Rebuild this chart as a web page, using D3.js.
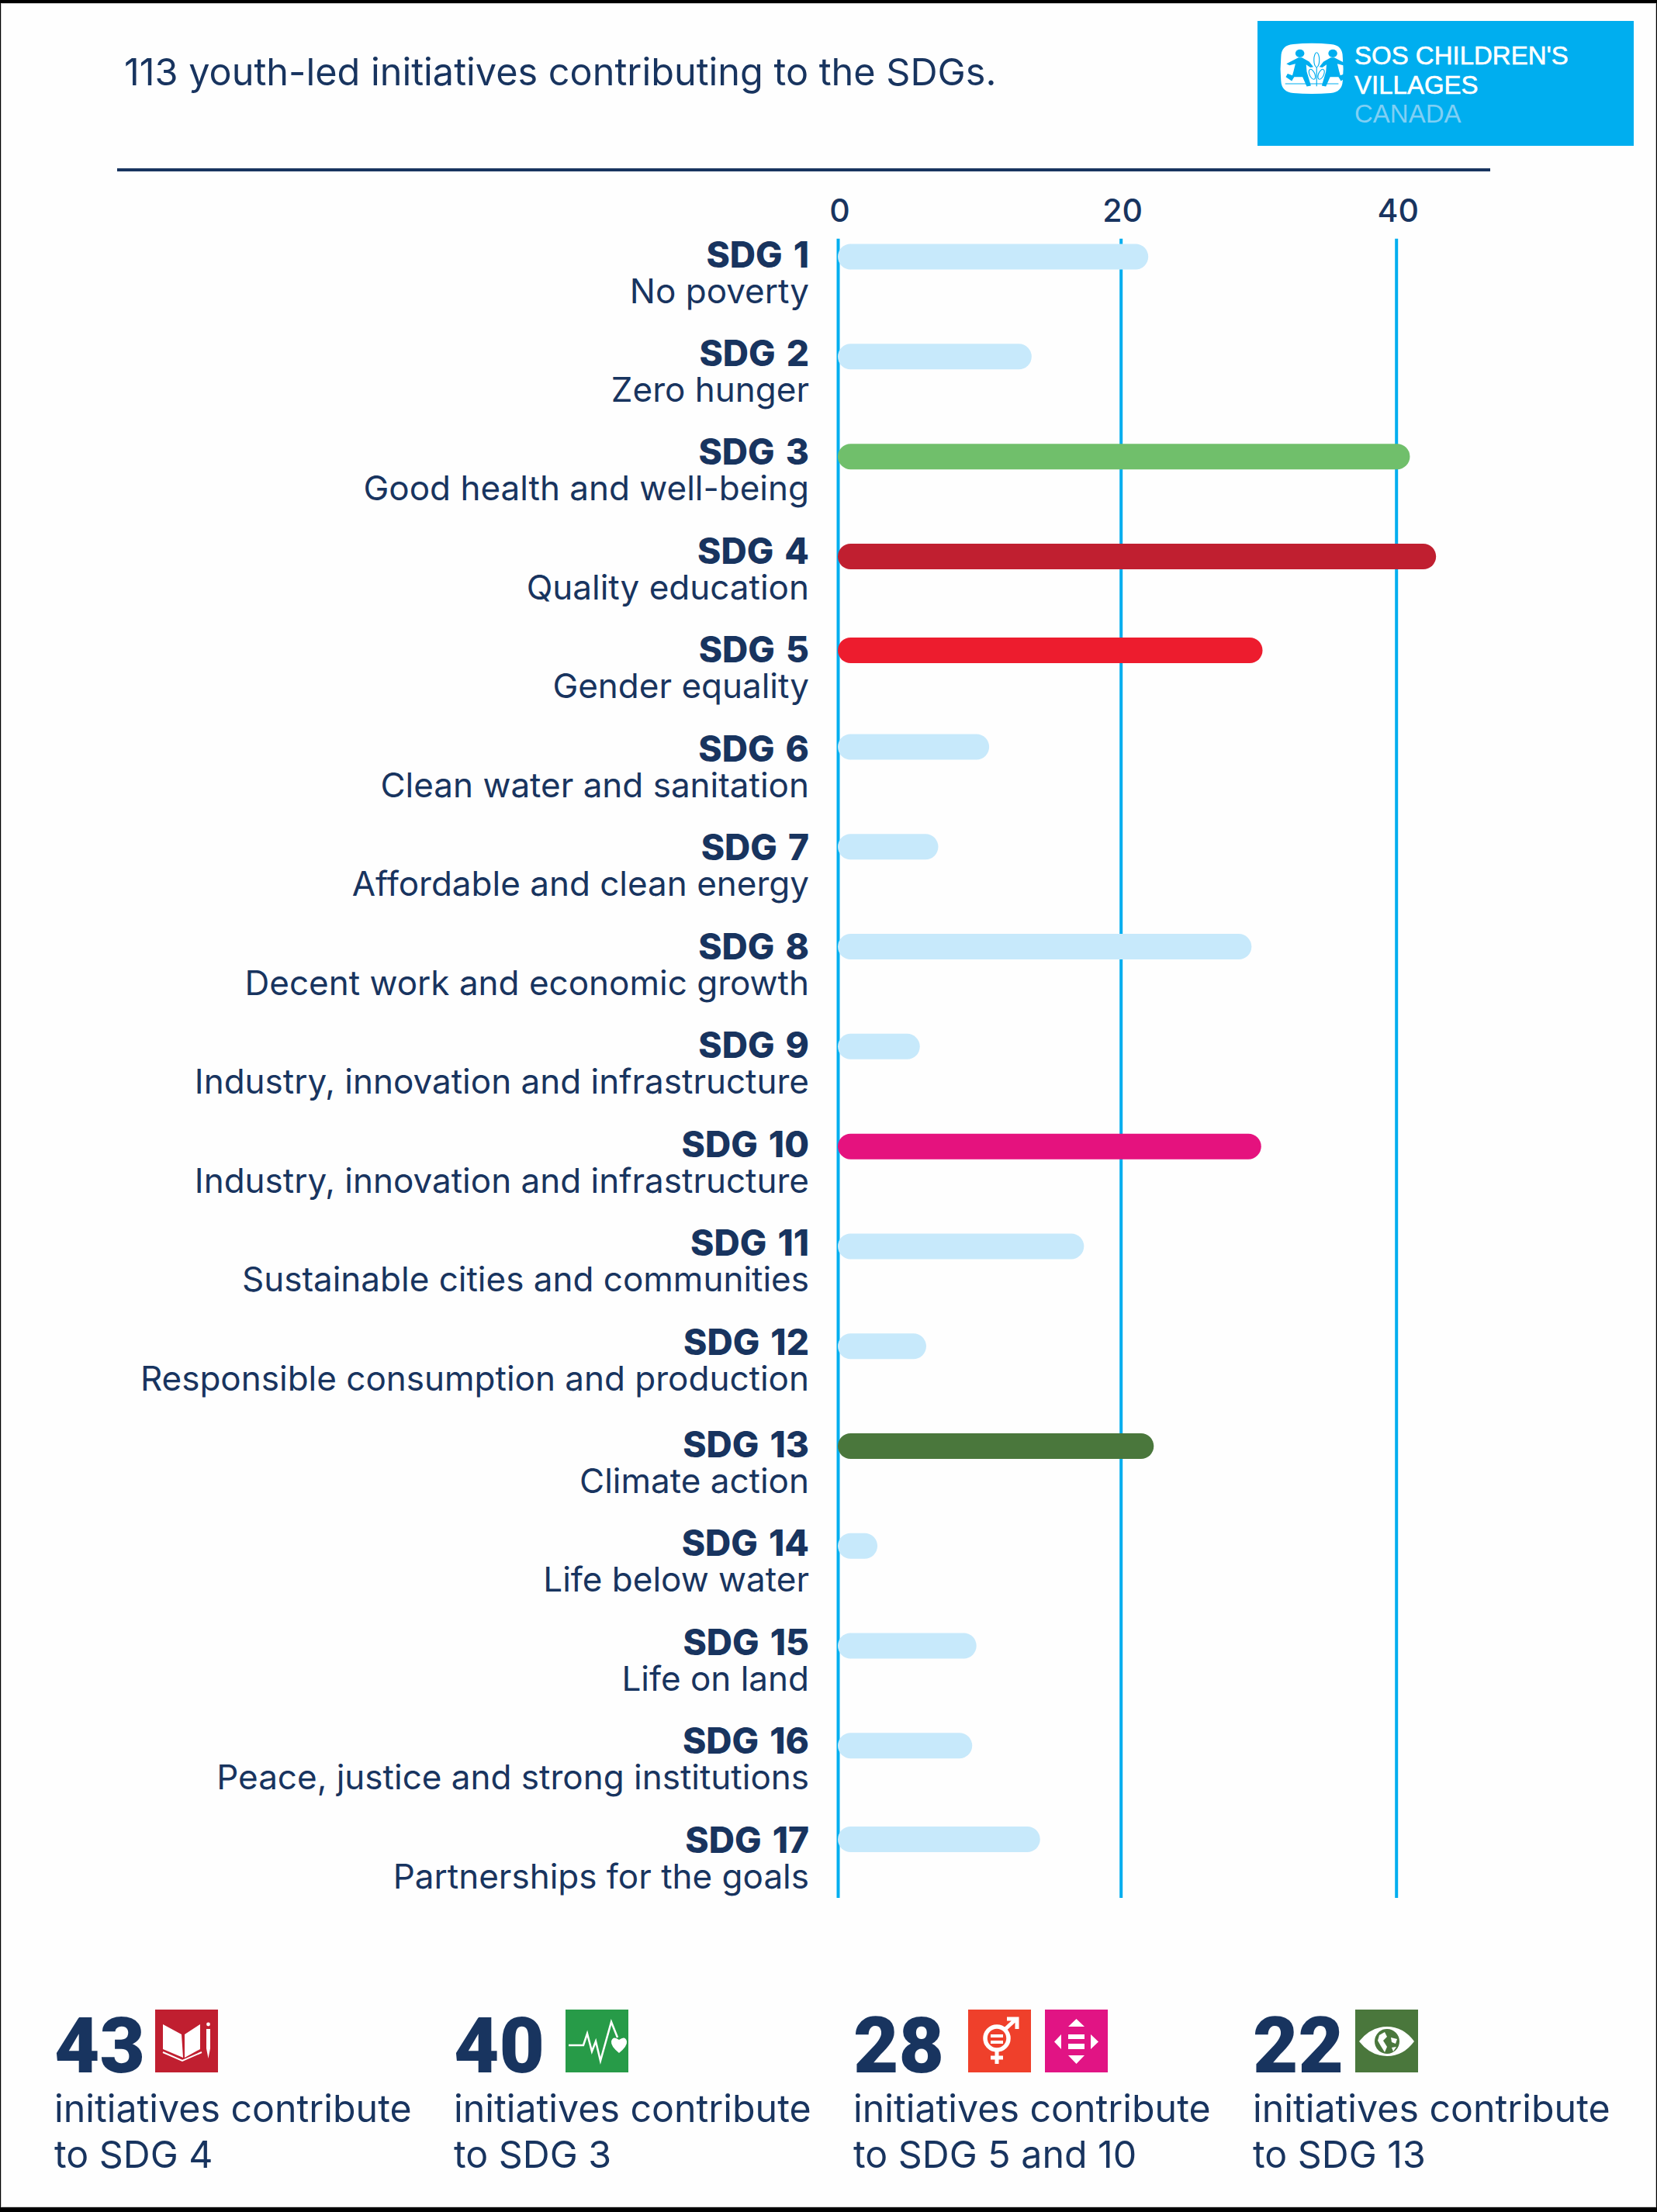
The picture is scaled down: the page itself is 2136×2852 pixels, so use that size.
<!DOCTYPE html>
<html>
<head>
<meta charset="utf-8">
<script src="https://cdn.jsdelivr.net/npm/d3@7"></script>
<style>
  html, body { margin: 0; padding: 0; background: #000; }
  svg { display: block; }
  text { font-family: Inter, "Noto Sans", sans-serif; fill: #18345f; }
</style>
</head>
<body>
<svg id="chart" width="2136" height="2852"></svg>
<script>
// data
const sdgNames = ["SDG 1","SDG 2","SDG 3","SDG 4","SDG 5","SDG 6","SDG 7","SDG 8","SDG 9","SDG 10","SDG 11","SDG 12","SDG 13","SDG 14","SDG 15","SDG 16","SDG 17"];
const sdgGoals = ["No poverty","Zero hunger","Good health and well-being","Quality education","Gender equality","Clean water and sanitation","Affordable and clean energy","Decent work and economic growth","Industry, innovation and infrastructure","Industry, innovation and infrastructure","Sustainable cities and communities","Responsible consumption and production","Climate action","Life below water","Life on land","Peace, justice and strong institutions","Partnerships for the goals"];
const sdgValues = [22, 13.7, 41, 42.9, 30.3, 10.7, 7.1, 29.5, 5.8, 30.2, 17.4, 6.25, 22.4, 2.8, 9.8, 9.5, 14.3];
const barColors = ["#c7e9fb","#c7e9fb","#70bf6b","#c01f30","#ed1c2e","#c7e9fb","#c7e9fb","#c7e9fb","#c7e9fb","#e5127e","#c7e9fb","#c7e9fb","#4a773c","#c7e9fb","#c7e9fb","#c7e9fb","#c7e9fb"];
const axisTicks = [0, 20, 40];
const statNumbers = ["43", "40", "28", "22"];
const statLines = [["initiatives contribute","to SDG 4"],["initiatives contribute","to SDG 3"],["initiatives contribute","to SDG 5 and 10"],["initiatives contribute","to SDG 13"]];
const statIcons = [["book"],["health"],["gender","inequal"],["climate"]];
const titleText = "113 youth-led initiatives contributing to the SDGs.";
const logoLines = ["SOS CHILDREN'S", "VILLAGES", "CANADA"];

const navy = "#18345f", blue = "#00aeef";
const svg = d3.select("#chart");

// page background, black frame shows round the edge
svg.append("rect").attr("width", 2136).attr("height", 2852).attr("fill", "#000");
svg.append("rect").attr("x", 1).attr("y", 4).attr("width", 2134).attr("height", 2842).attr("fill", "#c9c9c9");
svg.append("rect").attr("x", 2).attr("y", 5).attr("width", 2132).attr("height", 2840).attr("fill", "#fefefe");

// scales. the original grid is not quite even, so both are piecewise
const x = d3.scaleLinear().domain([0, 20, 40]).range([1080, 1444.7, 1799.7]);
const rowBar = d3.scaleLinear().domain([0, 3, 4, 5, 12, 15, 16]).range([331, 717.5, 838.5, 963, 1864.5, 2250.7, 2371.5]);
const rowLabel = d3.scaleLinear().domain([0, 11, 12, 16]).range([343, 1745, 1877, 2387]);
const barH = 33;

// header
svg.append("text").attr("x", 160).attr("y", 110)
  .attr("font-size", 48.6).text(titleText);
svg.append("line").attr("x1", 151).attr("x2", 1921).attr("y1", 219).attr("y2", 219)
  .attr("stroke", navy).attr("stroke-width", 4);

// axis and grid lines
const axis = d3.axisTop(x).tickValues(axisTicks).tickSize(-(2447 - 307.7)).tickPadding(22);
const axisG = svg.append("g").attr("transform", "translate(0,307.7)").call(axis);
axisG.select(".domain").remove();
axisG.selectAll(".tick line").attr("stroke", blue).attr("stroke-width", 4).attr("x1", 0).attr("x2", 0);
axisG.selectAll(".tick text").attr("font-size", 41).attr("font-weight", 500)
  .attr("dx", 2).style("font-family", "Inter").attr("fill", navy);

// bars
svg.append("g").selectAll("rect").data(sdgValues).join("rect")
  .attr("x", x(0))
  .attr("y", (d, i) => rowBar(i) - barH / 2)
  .attr("width", d => x(d) - x(0))
  .attr("height", barH)
  .attr("rx", barH / 2)
  .attr("fill", (d, i) => barColors[i]);

// row labels
const labels = svg.append("g").attr("text-anchor", "end");
labels.selectAll("text.name").data(sdgNames).join("text").attr("class", "name")
  .attr("x", 1043).attr("y", (d, i) => rowLabel(i) + 1.5)
  .attr("font-size", 46).attr("font-weight", 800).attr("word-spacing", 4).text(d => d);
labels.selectAll("text.goal").data(sdgGoals).join("text").attr("class", "goal")
  .attr("x", 1043).attr("y", (d, i) => rowLabel(i) + 47.5)
  .attr("font-size", 44).text(d => d);

// logo
const logo = svg.append("g");
logo.append("rect").attr("x", 1621).attr("y", 27).attr("width", 485).attr("height", 161).attr("fill", blue);
logo.selectAll("text").data(logoLines).join("text")
  .attr("x", 1746).attr("y", (d, i) => [83, 121, 158][i])
  .style("font-family", "'Liberation Sans'").style("fill", (d, i) => i < 2 ? "#fff" : "#7fcff4")
  .style("stroke", (d, i) => i < 2 ? "#fff" : "none").style("stroke-width", 0.6)
  .attr("font-size", 33).text(d => d);

const mark = logo.append("g").attr("transform", "translate(1638.2,48.6) scale(0.386,0.337)");
mark.append("path").attr("fill", "#fff")
  .attr("d", "M75,25 Q136,18 200,25 Q240,28 240,75 Q244,120 240,165 Q238,208 200,212 Q136,218 75,212 Q36,208 34,165 Q30,120 34,75 Q34,28 75,25Z");
function child(g) {
  g.append("circle").attr("cx", 97).attr("cy", 60).attr("r", 15).attr("fill", blue);
  g.append("path").attr("fill", blue)
    .attr("d", "M92,76 L104,76 L128,92 L142,112 L132,114 L118,103 L120,130 L134,184 L120,187 L106,150 L78,150 L74,158 L70,166 L50,150 L56,138 L72,144 L76,128 L82,100 L62,106 L52,100 Z");
}
child(mark.append("g"));
child(mark.append("g").attr("transform", "translate(304,0) scale(-1,1)"));
mark.append("line").attr("x1", 48).attr("x2", 226).attr("y1", 176).attr("y2", 176).attr("stroke", blue).attr("stroke-width", 3);
mark.append("line").attr("x1", 153).attr("x2", 153).attr("y1", 60).attr("y2", 186).attr("stroke", blue).attr("stroke-width", 3);
[[153, 85, 0, 28], [138, 140, -20, 20], [168, 140, 20, 20]].forEach(l => {
  mark.append("ellipse").attr("cx", l[0]).attr("cy", l[1]).attr("rx", 9).attr("ry", l[3])
    .attr("transform", `rotate(${l[2]},${l[0]},${l[1]})`)
    .attr("fill", "#fff").attr("stroke", blue).attr("stroke-width", 3);
});

// SDG tiles, drawn in an 81 unit box
const iconDraw = {
  book(g) {
    g.append("rect").attr("width", 81).attr("height", 81).attr("fill", "#c01f30");
    g.append("path").attr("fill", "#fff").attr("d", "M10,19 L34,32 L36,62 L10,51Z M58,19 L38,32 L38,62 L58,51Z");
    g.append("path").attr("fill", "none").attr("stroke", "#fff").attr("stroke-width", 2).attr("d", "M10,55 L35,66 L60,55");
    g.append("path").attr("fill", "#fff").attr("d", "M66,25 L71,25 L71,50 L68.5,63 L66,50Z");
    g.append("circle").attr("cx", 68.5).attr("cy", 19).attr("r", 2.4).attr("fill", "#fff");
  },
  health(g) {
    g.append("rect").attr("width", 81).attr("height", 81).attr("fill", "#279b48");
    g.append("path").attr("fill", "none").attr("stroke", "#fff").attr("stroke-width", 2.5)
      .attr("d", "M4,46 L23,46 L28,31 L34,54 L39,41 L45,66 L59,16 L67,36");
    g.append("path").attr("fill", "#fff").attr("d", "M69,56 Q58,47 59,41 Q61,33 69,39 Q77,33 79,41 Q80,47 69,56Z");
  },
  gender(g) {
    g.append("rect").attr("width", 81).attr("height", 81).attr("fill", "#ef402b");
    g.append("circle").attr("cx", 37).attr("cy", 37).attr("r", 15).attr("fill", "none").attr("stroke", "#fff").attr("stroke-width", 5.5);
    g.append("path").attr("fill", "none").attr("stroke", "#fff").attr("stroke-width", 5)
      .attr("d", "M47,26 L62,12 M50,12 L63,12 L63,25 M37,52 L37,70 M29,62 L45,62");
    g.append("path").attr("fill", "#fff").attr("d", "M29,32 h16 v4 h-16Z M29,40 h16 v4 h-16Z");
  },
  inequal(g) {
    g.append("rect").attr("width", 81).attr("height", 81).attr("fill", "#e11484");
    g.append("path").attr("fill", "#fff")
      .attr("d", "M40.5,12 L51,22 L30,22Z M40.5,70 L51,59 L30,59Z M12,41.5 L21,32 L21,51Z M69,41.5 L59,32 L59,51Z M30,32 h21 v6 h-21Z M30,44 h21 v7 h-21Z");
  },
  climate(g) {
    g.append("rect").attr("width", 81).attr("height", 81).attr("fill", "#4a773c");
    g.append("path").attr("fill", "#fff").attr("d", "M5,41 Q20,22 41,22 Q62,22 76,41 Q62,60 41,60 Q20,60 5,41Z");
    g.append("circle").attr("cx", 41).attr("cy", 41).attr("r", 16).attr("fill", "#4a773c");
    g.append("path").attr("fill", "#fff").attr("d", "M31,33 L38,29 L41,35 L36,40 L41,48 L38,55 L33,47 L29,40Z M46,36 L54,38 L52,44 L47,42Z M47,49 L53,48 L49,54Z");
  }
};

// bottom stats
const statX = [70, 585, 1100, 1615];
const tileX = [[200], [729], [1248, 1347], [1747]];
const stats = svg.append("g").selectAll("g").data(statNumbers).join("g");
stats.append("text").attr("x", (d, i) => statX[i]).attr("y", 2672)
  .attr("font-size", 101).attr("font-weight", 900).style("font-family", "Roboto").text(d => d);
stats.each(function (d, i) {
  const g = d3.select(this);
  statIcons[i].forEach((name, j) => {
    iconDraw[name](g.append("g").attr("transform", `translate(${tileX[i][j]},2591)`));
  });
  statLines[i].forEach((line, j) => {
    g.append("text").attr("x", statX[i]).attr("y", 2736 + j * 59).attr("font-size", 48.3).text(line);
  });
});
</script>
</body>
</html>
